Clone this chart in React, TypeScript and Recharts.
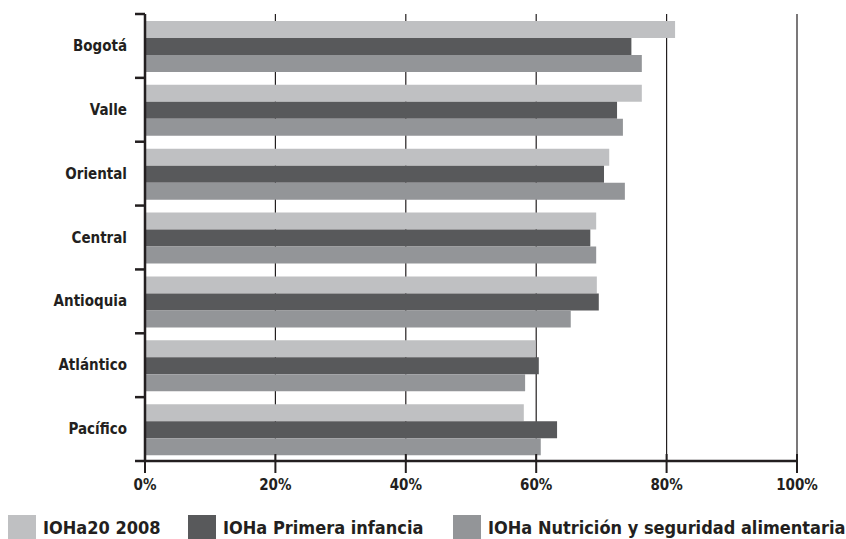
import { BarChart, Bar, XAxis, YAxis, CartesianGrid } from "recharts";

const regions = ["Bogotá", "Valle", "Oriental", "Central", "Antioquia", "Atlántico", "Pacífico"];
const ioha2008 = [81.3, 76.2, 71.2, 69.2, 69.3, 59.9, 58.1];
const primeraInfancia = [74.6, 72.4, 70.4, 68.3, 69.6, 60.4, 63.2];
const nutricion = [76.2, 73.3, 73.6, 69.2, 65.3, 58.3, 60.7];
const xTicks = [0, 20, 40, 60, 80, 100];

const series = [
  { key: "ioha2008", name: "IOHa20 2008", color: "#bfc0c2" },
  { key: "primera", name: "IOHa Primera infancia", color: "#58595b" },
  { key: "nutricion", name: "IOHa Nutrición y seguridad alimentaria", color: "#939598" },
];

const data = regions.map((region, i) => ({
  region,
  ioha2008: ioha2008[i],
  primera: primeraInfancia[i],
  nutricion: nutricion[i],
}));

const INK = "#231f20";
const FONT = "'DejaVu Sans Condensed', 'DejaVu Sans', sans-serif";
const W = 846;
const H = 505;
const TOP = 14;
const AXIS_X = 145;
const PLOT_BOTTOM = 461;
const BAND = (PLOT_BOTTOM - TOP) / regions.length;

function YTick(props: any) {
  const { y, payload, index } = props;
  const top = y - BAND / 2;
  return (
    <g>
      <line x1={AXIS_X - 10} x2={AXIS_X} y1={top} y2={top} stroke={INK} strokeWidth={2.5} />
      {index === regions.length - 1 && (
        <line x1={AXIS_X - 10} x2={AXIS_X} y1={y + BAND / 2} y2={y + BAND / 2} stroke={INK} strokeWidth={2.5} />
      )}
      <text
        x={AXIS_X - 18}
        y={y}
        dy={5}
        textAnchor="end"
        fill={INK}
        fontFamily={FONT}
        fontWeight="bold"
        fontSize={15}
      >
        {payload.value}
      </text>
    </g>
  );
}

function XTick(props: any) {
  const { x, payload } = props;
  return (
    <g>
      <line x1={x} x2={x} y1={PLOT_BOTTOM - 7} y2={PLOT_BOTTOM + 12} stroke={INK} strokeWidth={2} />
      <text
        x={x}
        y={PLOT_BOTTOM + 29}
        textAnchor="middle"
        fill={INK}
        fontFamily={FONT}
        fontWeight="bold"
        fontSize={15}
      >
        {payload.value}%
      </text>
    </g>
  );
}

const legendLeft = [8, 188, 453];

export default function App() {
  return (
    <div style={{ position: "absolute", left: 0, top: 0, width: W, height: 539, overflow: "hidden", background: "#fff" }}>
      <BarChart
        width={W}
        height={H}
        data={data}
        layout="vertical"
        margin={{ top: TOP, right: 49, bottom: 0, left: 0 }}
        barCategoryGap={7}
        barGap={0}
      >
        <CartesianGrid horizontal={false} stroke={INK} strokeWidth={1.2} />
        <XAxis
          type="number"
          domain={[0, 100]}
          ticks={xTicks}
          height={H - PLOT_BOTTOM}
          axisLine={{ stroke: INK, strokeWidth: 2.5 }}
          tickLine={false}
          tick={(p: any) => <XTick {...p} />}
          interval={0}
        />
        <YAxis
          type="category"
          dataKey="region"
          width={AXIS_X}
          axisLine={{ stroke: INK, strokeWidth: 2.5 }}
          tickLine={false}
          tick={(p: any) => <YTick {...p} />}
          interval={0}
        />
        {series.map((s) => (
          <Bar key={s.key} dataKey={s.key} name={s.name} fill={s.color} isAnimationActive={false} />
        ))}
      </BarChart>
      {series.map((s, i) => (
        <div key={s.key} style={{ position: "absolute", left: legendLeft[i], top: 515, display: "flex" }}>
          <div style={{ width: 28, height: 24, background: s.color }} />
          <div
            style={{
              marginLeft: 7,
              marginTop: 4,
              fontFamily: FONT,
              fontWeight: "bold",
              fontSize: 18,
              lineHeight: "18px",
              color: INK,
              whiteSpace: "nowrap",
            }}
          >
            {s.name}
          </div>
        </div>
      ))}
    </div>
  );
}
